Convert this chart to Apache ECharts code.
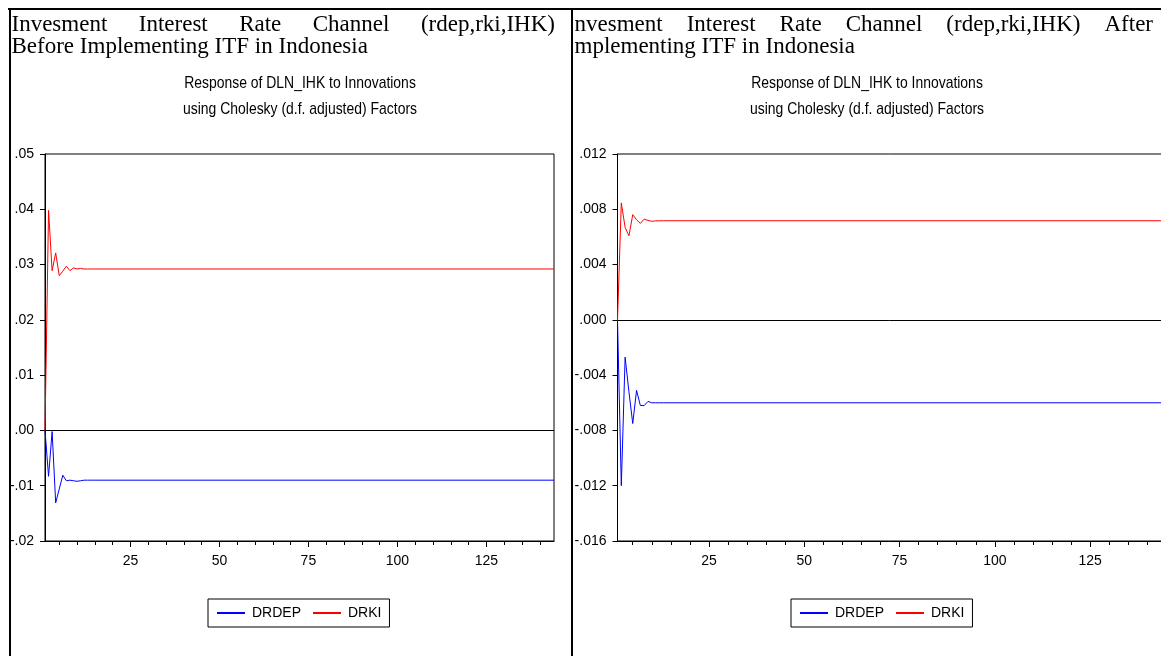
<!DOCTYPE html>
<html>
<head>
<meta charset="utf-8">
<title>Response of DLN_IHK to Innovations</title>
<script src="https://cdn.jsdelivr.net/npm/echarts@6/dist/echarts.min.js"></script>
<style>
html, body { margin: 0; padding: 0; background: #fff; }
#main { width: 1161px; height: 656px; }
</style>
</head>
<body>
<div id="main"></div>
<script>
// periods (response settles after ~15 periods, flat to 144)
var periods = [1, 2, 3, 4, 5, 6, 7, 8, 9, 10, 11, 12, 13, 14, 15, 144];

// before ITF
var drdepBefore = [0, -0.0083, -0.0002, -0.0131, -0.0106, -0.0081, -0.0091, -0.0090, -0.0091, -0.0092, -0.0091, -0.0090, -0.0090, -0.0090, -0.0090, -0.0090];
var drkiBefore = [0, 0.0398, 0.0289, 0.0321, 0.0280, 0.0288, 0.0297, 0.0289, 0.0294, 0.0292, 0.0293, 0.0292, 0.0292, 0.0292, 0.0292, 0.0292];

// after ITF
var drdepAfter = [0, -0.0120, -0.0027, -0.0052, -0.0075, -0.0051, -0.0062, -0.0062, -0.0059, -0.0060, -0.0060, -0.0060, -0.0060, -0.0060, -0.0060, -0.0060];
var drkiAfter = [0, 0.00846, 0.00669, 0.00608, 0.00761, 0.00724, 0.00698, 0.00729, 0.00719, 0.00713, 0.00716, 0.00717, 0.00717, 0.00717, 0.00717, 0.00717];

var xLabels = [25, 50, 75, 100, 125];
var xMinorTicks = [5, 10, 15, 20, 25, 30, 35, 40, 45, 50, 55, 60, 65, 70, 75, 80, 85, 90, 95, 100, 105, 110, 115, 120, 125, 130, 135, 140];
var seriesNames = ['DRDEP', 'DRKI'];

var sans = "'Liberation Sans', Arial, sans-serif";
var serifFont = "23px 'Liberation Serif', 'Times New Roman', serif";

function pairs(vals) {
	return periods.map(function(p, i) { return [p, vals[i]]; });
}

function dotFormat(digits) {
	return function(v) {
		var s = Math.abs(v).toFixed(digits).replace(/^0/, '');
		return (v < -1e-9 ? '-' : '') + s;
	};
}

// justified first line of the cell text, like in the word document
function justified(words, x0, x1, y) {
	var ctx = document.createElement('canvas').getContext('2d');
	ctx.font = serifFont;
	var widths = words.map(function(w) { return ctx.measureText(w).width; });
	var total = widths.reduce(function(a, b) { return a + b; }, 0);
	var gap = (x1 - x0 - total) / (words.length - 1);
	var x = x0, out = [];
	words.forEach(function(w, i) {
		out.push({ type: 'text', x: x, y: y, style: { text: w, font: serifFont, fill: '#000', verticalAlign: 'middle' } });
		x += widths[i] + gap;
	});
	return out;
}

function plainText(text, x, y) {
	return { type: 'text', x: x, y: y, style: { text: text, font: serifFont, fill: '#000', verticalAlign: 'middle' } };
}

// eviews uses a condensed face, squeeze the sans text to match
function subTitle(text, cx, y) {
	return {
		type: 'text', x: cx, y: y, scaleX: 0.82,
		style: { text: text, fill: '#000', fontSize: 17, fontFamily: sans, align: 'center', verticalAlign: 'middle' }
	};
}

function borderLine(x1, y1, x2, y2) {
	return { type: 'line', shape: { x1: x1, y1: y1, x2: x2, y2: y2 }, style: { stroke: '#000', lineWidth: 2 }, z: 100 };
}

var graphics = []
	.concat(justified(['Invesment', 'Interest', 'Rate', 'Channel', '(rdep,rki,IHK)'], 11.5, 555, 25))
	.concat([plainText('Before Implementing ITF in Indonesia', 11.5, 47)])
	.concat(justified(['nvesment', 'Interest', 'Rate', 'Channel', '(rdep,rki,IHK)', 'After'], 574.5, 1153, 25))
	.concat([plainText('mplementing ITF in Indonesia', 574.5, 47)])
	.concat([
		subTitle('Response of DLN_IHK to Innovations', 300, 83),
		subTitle('using Cholesky (d.f. adjusted) Factors', 300, 109),
		subTitle('Response of DLN_IHK to Innovations', 867, 83),
		subTitle('using Cholesky (d.f. adjusted) Factors', 867, 109),
		borderLine(8, 9, 1161, 9),
		borderLine(10, 8, 10, 656),
		borderLine(572, 8, 572, 656)
	]);

function xAxisPair(gi) {
	return [{
		gridIndex: gi, type: 'value', min: 1, max: 144,
		axisLine: { onZero: false, lineStyle: { color: '#000', width: 1 } },
		axisTick: { customValues: xMinorTicks, length: 4, lineStyle: { color: '#000' } },
		axisLabel: { customValues: xLabels, color: '#000', fontSize: 14, fontFamily: sans, margin: 13 },
		splitLine: { show: false }
	}, {
		gridIndex: gi, type: 'value', min: 1, max: 144, position: 'bottom',
		axisLine: { show: false, onZero: false },
		axisTick: { customValues: xLabels, length: 6, lineStyle: { color: '#000' } },
		axisLabel: { show: false },
		splitLine: { show: false }
	}];
}

function yAxisOf(gi, min, max, step, digits) {
	return {
		gridIndex: gi, type: 'value', min: min, max: max, interval: step,
		axisLine: { show: true, onZero: false, lineStyle: { color: '#000', width: 1 } },
		axisTick: { show: true, length: 5, lineStyle: { color: '#000' } },
		axisLabel: { formatter: dotFormat(digits), color: '#000', fontSize: 14, fontFamily: sans, margin: 11 },
		splitLine: { show: false }
	};
}

function lineSeries(name, color, data, xi, yi, zero) {
	var s = {
		name: name, type: 'line', data: pairs(data), xAxisIndex: xi, yAxisIndex: yi,
		showSymbol: false, symbol: 'none', color: color,
		lineStyle: { color: color, width: 1 }, z: 3
	};
	if (zero) {
		s.markLine = {
			silent: true, symbol: 'none', label: { show: false },
			lineStyle: { color: '#000', type: 'solid', width: 1 },
			data: [{ yAxis: 0 }], z: 2
		};
	}
	return s;
}

function legendOf(left) {
	return {
		data: seriesNames, left: left, top: 599, orient: 'horizontal',
		icon: 'rect', itemWidth: 28, itemHeight: 2, itemGap: 12,
		padding: [7, 8, 7, 9], borderColor: '#000', borderWidth: 1, borderRadius: 0,
		textStyle: { color: '#000', fontSize: 14, fontFamily: sans, padding: [0, 0, 0, 2] }
	};
}

var chart = echarts.init(document.getElementById('main'), null, { renderer: 'canvas' });
chart.setOption({
	animation: false,
	backgroundColor: '#fff',
	graphic: graphics,
	grid: [
		{ left: 45, top: 154, width: 509, height: 387, show: true, borderColor: '#000', borderWidth: 1, outerBoundsMode: 'none' },
		{ left: 617.5, top: 154, width: 545, height: 387, show: true, borderColor: '#000', borderWidth: 1, outerBoundsMode: 'none' }
	],
	legend: [legendOf(208), legendOf(791)],
	xAxis: xAxisPair(0).concat(xAxisPair(1)),
	yAxis: [
		yAxisOf(0, -0.02, 0.05, 0.01, 2),
		yAxisOf(1, -0.016, 0.012, 0.004, 3)
	],
	series: [
		lineSeries('DRDEP', '#0000ff', drdepBefore, 0, 0, true),
		lineSeries('DRKI', '#ff0000', drkiBefore, 0, 0, false),
		lineSeries('DRDEP', '#0000ff', drdepAfter, 2, 1, true),
		lineSeries('DRKI', '#ff0000', drkiAfter, 2, 1, false)
	]
});
</script>
</body>
</html>
